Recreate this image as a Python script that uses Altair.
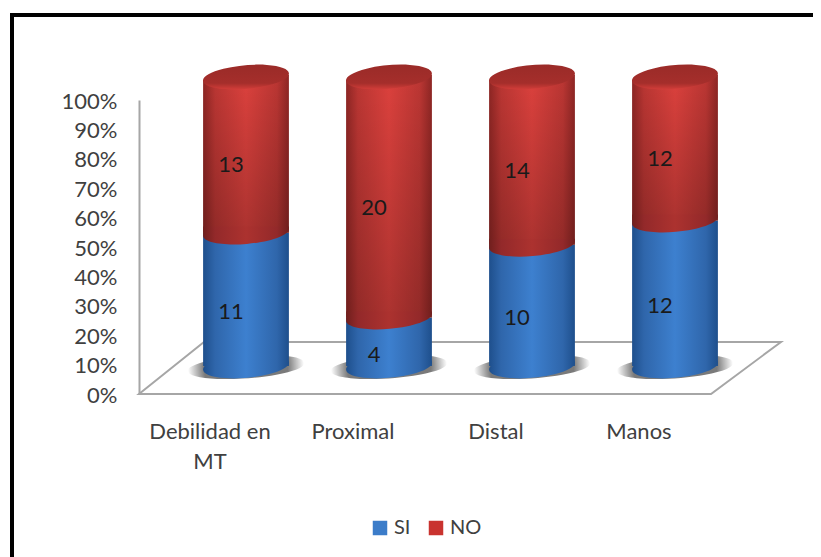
import altair as alt
import pandas as pd

categories = ["Debilidad en MT", "Proximal", "Distal", "Manos"]
si_values = [11, 4, 10, 12]
no_values = [13, 20, 14, 12]
series = ["SI", "NO"]
y_ticks = list(range(0, 101, 10))

df = pd.DataFrame({"cat": categories, "si": si_values, "no": no_values})
FONT = "Lato"


def grad_h(edge, near, mid):
    return alt.Gradient(gradient="linear", x1=0, x2=1, y1=0, y2=0, stops=[
        alt.GradientStop(color=edge, offset=0),
        alt.GradientStop(color=near, offset=0.14),
        alt.GradientStop(color=mid, offset=0.5),
        alt.GradientStop(color=near, offset=0.86),
        alt.GradientStop(color=edge, offset=1),
    ])


red_body = grad_h("#8e2624", "#bb3633", "#dc413d")
red_low = grad_h("#701f1d", "#93292a", "#ac322f")
blue_body = grad_h("#1e4f8c", "#2f66ab", "#3d80cf")
red_top = alt.Gradient(gradient="linear", x1=0, x2=0, y1=0, y2=1, stops=[
    alt.GradientStop(color="#9a2b28", offset=0),
    alt.GradientStop(color="#a52e2b", offset=0.75),
    alt.GradientStop(color="#d23d39", offset=1),
])
shade = alt.Gradient(gradient="linear", x1=0, x2=0, y1=0, y2=1, stops=[
    alt.GradientStop(color="rgba(0,0,0,0)", offset=0),
    alt.GradientStop(color="rgba(0,0,0,0.22)", offset=1),
])
shadow = alt.RadialGradient(gradient="radial", x1=0.5, y1=0.5, x2=0.5, y2=0.5, r1=0.36, r2=0.5, stops=[
    alt.GradientStop(color="#7a7a7a", offset=0),
    alt.GradientStop(color="#ffffff", offset=1),
])

ELLIPSE = "M-1,0.087 A1.004,0.27 -5 1 1 1,-0.087 A1.004,0.27 -5 1 1 -1,0.087 Z"
SHADOW = "M-1,0.07 A1.003,0.19 -4 1 1 1,-0.07 A1.003,0.19 -4 1 1 -1,0.07 Z"
LOWER_HALF = "M-1,-0.14 L-1,0.087 A1.004,0.27 -5 0 0 1,-0.087 L1,-0.14 Z"
CORNER = "M-1.03,0.087 L-1.03,-0.15 L-0.6,-0.15 Z"
FLOOR = "M0,0 L65,-52 L642,-52 L572,0 Z"
CYL = 85.8 ** 2

x = alt.X("cat:N", sort=categories, title=None,
          scale=alt.Scale(domain=categories, range=[35.5, 607.5], paddingInner=0.4, paddingOuter=0.2),
          axis=alt.Axis(domain=False, ticks=False, labelAngle=0, labelOffset=-36, labelPadding=27,
                        labelFont=FONT, labelFontSize=22, labelColor="#404040", labelLineHeight=30,
                        labelExpr="datum.value == 'Debilidad en MT' ? ['Debilidad en', 'MT'] : datum.label"))


def body_y(field):
    return alt.Y(field, title=None, axis=None,
                 scale=alt.Scale(domain=[0, 100], range=[266, -25], nice=False))


base = alt.Chart(df).transform_calculate(
    pct="100 * datum.si / (datum.si + datum.no)",
    zero="0",
    full="100",
    mid_si="50 * datum.si / (datum.si + datum.no)",
    mid_no="100 * datum.si / (datum.si + datum.no) + 50 * datum.no / (datum.si + datum.no)",
)

floor = alt.Chart(pd.DataFrame({"a": [0]})).mark_point(
    shape=FLOOR, size=4, filled=True, fill="#ffffff", stroke="#a6a6a6", strokeWidth=2, opacity=1
).encode(x=alt.value(0), y=alt.value(294))

border_top = alt.Chart(pd.DataFrame({"a": [0]})).mark_rule(color="#000000", strokeWidth=4).encode(
    x=alt.value(-129), x2=alt.value(674), y=alt.value(-85))
border_left = alt.Chart(pd.DataFrame({"a": [0]})).mark_rule(color="#000000", strokeWidth=4).encode(
    x=alt.value(-127), y=alt.value(-87), y2=alt.value(457))

shadows = base.mark_point(shape=SHADOW, size=(2 * 58) ** 2, filled=True, fill=shadow, opacity=1,
                          yOffset=1).encode(x=x, y=body_y("zero:Q"))
blue_bottom = base.mark_point(shape=ELLIPSE, size=CYL, filled=True, fill=blue_body, opacity=1).encode(
    x=x, y=body_y("zero:Q"))
blue_bar = base.mark_bar(fill=blue_body).encode(x=x, y=body_y("zero:Q"), y2="pct:Q")
red_bar = base.mark_bar(fill=red_body).encode(x=x, y=body_y("pct:Q"), y2="full:Q")
red_shade = base.mark_bar(fill=shade).encode(x=x, y=body_y("pct:Q"), y2="full:Q")
red_bottom = base.mark_point(shape=LOWER_HALF, size=CYL, filled=True, fill=red_low, opacity=1).encode(
    x=x, y=body_y("pct:Q"))
corner = base.mark_point(shape=CORNER, size=CYL, filled=True, fill="#ffffff", opacity=1, yOffset=2).encode(
    x=x, y=body_y("full:Q"))
red_cap = base.mark_point(shape=ELLIPSE, size=CYL, filled=True, fill=red_top, opacity=1, yOffset=2).encode(
    x=x, y=body_y("full:Q"))

y_axis = alt.Axis(values=y_ticks, labelExpr="datum.value + '%'", grid=False, ticks=False,
                  domainColor="#a6a6a6", domainWidth=2, labelPadding=22, labelOffset=1,
                  labelFont=FONT, labelFontSize=22, labelColor="#404040")
label_si = base.mark_text(font=FONT, fontSize=22, color="#1a1a1a", xOffset=-15, yOffset=-14.5).encode(
    x=x, text="si:Q",
    y=alt.Y("mid_si:Q", title=None, axis=y_axis, scale=alt.Scale(domain=[0, 100], range=[294, 0], nice=False)))
label_no = base.mark_text(font=FONT, fontSize=22, color="#1a1a1a", xOffset=-15, yOffset=-14.5).encode(
    x=x, text="no:Q",
    y=alt.Y("mid_no:Q", title=None, axis=None, scale=alt.Scale(domain=[0, 100], range=[294, 0], nice=False)))

legend_layer = alt.Chart(pd.DataFrame({"serie": series})).mark_square(size=0, opacity=0.001).encode(
    color=alt.Color("serie:N", title=None, sort=series,
                    scale=alt.Scale(domain=series, range=["#3b7cc9", "#c9332f"]),
                    legend=alt.Legend(orient="none", legendX=231, legendY=418, direction="horizontal",
                                      symbolType="square", symbolSize=210, symbolOpacity=1,
                                      labelFont=FONT, labelFontSize=20, labelColor="#404040",
                                      columnPadding=15, symbolStrokeWidth=0)))

chart = alt.layer(
    border_top, border_left, floor, shadows, blue_bottom, blue_bar, red_bar, red_shade,
    red_bottom, corner, red_cap, label_si, label_no, legend_layer,
).resolve_scale(y="independent").properties(
    width=642, height=294, background="#ffffff", autosize="none",
    padding={"left": 131, "top": 92, "right": 32, "bottom": 163},
).configure_view(stroke=None)

chart.save("out.html", embed_options={"renderer": "svg", "actions": False})
